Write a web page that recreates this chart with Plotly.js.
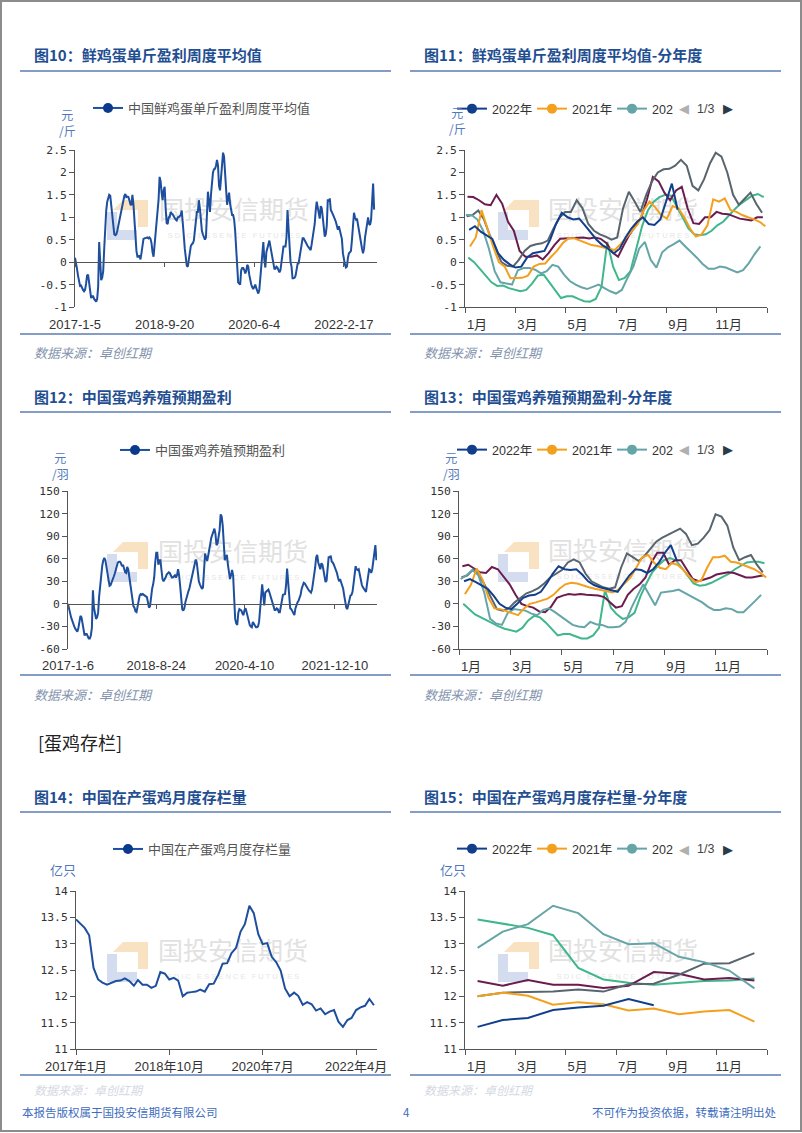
<!DOCTYPE html>
<html><head><meta charset="utf-8">
<script src="https://cdn.plot.ly/plotly-3.0.1.min.js"></script>
<style>html,body{margin:0;padding:0;background:#fff;}#chart{width:802px;height:1133px;}</style>
</head><body><div id="chart"></div>
<script>
// ---------- DATA ----------
// Weekly egg profit per jin (元/斤), one array per calendar year
const profitJin2017 = [0.10,0.00,-0.15,-0.30,-0.45,-0.53,-0.52,-0.58,-0.62,-0.65,
 -0.62,-0.48,-0.30,-0.28,-0.45,-0.62,-0.80,-0.76,-0.76,-0.82,
 -0.87,-0.88,-0.82,-0.55,0.45,-0.10,-0.40,-0.35,-0.20,0.30,
 0.80,1.15,1.35,1.45,1.50,1.48,1.25,1.00,0.75,0.62,
 0.60,0.62,0.70,0.82,0.90,1.05,1.18,1.30,1.40,1.48,1.52,1.45];
const profitJin2018 = [1.46,1.45,1.38,1.29,1.27,1.50,1.30,0.90,0.70,0.25,
 0.12,0.12,0.15,0.06,0.20,0.38,0.52,0.53,0.54,0.55,
 0.55,0.53,0.55,0.52,0.42,0.22,0.12,0.38,0.62,0.80,
 1.00,1.40,1.90,1.80,1.55,1.38,1.60,1.68,1.20,0.87,
 0.85,1.00,1.00,1.12,1.08,1.07,1.02,0.97,0.95,0.93,1.00,1.00];
const profitJin2019 = [1.02,1.05,1.15,0.95,0.60,0.30,0.00,-0.08,-0.10,0.05,
 0.25,0.36,0.40,0.42,0.48,0.75,0.98,1.12,1.12,1.38,
 1.20,0.85,0.70,0.62,0.57,0.50,0.55,1.20,1.57,1.35,
 1.12,1.50,1.80,2.00,2.07,2.08,2.15,2.28,2.15,1.70,
 1.60,1.85,2.20,2.44,2.35,2.00,1.50,1.28,1.42,1.55,1.30,1.10];
const profitJin2020 = [1.05,1.05,0.95,0.70,0.30,-0.20,-0.45,-0.48,-0.50,-0.18,
 -0.13,-0.13,-0.17,-0.25,-0.20,-0.06,-0.10,-0.28,-0.42,-0.50,
 -0.56,-0.60,-0.55,-0.50,-0.58,-0.65,-0.70,-0.62,-0.35,-0.10,
 0.30,0.45,0.05,-0.12,0.22,0.33,0.40,0.48,0.35,0.23,
 0.10,-0.04,-0.15,-0.15,-0.10,-0.12,-0.18,-0.23,-0.18,-0.02,0.18,0.35];
const profitJin2021 = [0.35,0.55,1.16,0.75,0.35,0.00,-0.10,-0.36,-0.36,-0.35,
 -0.30,-0.10,-0.04,-0.03,0.12,0.25,0.42,0.53,0.53,0.48,
 0.42,0.38,0.36,0.33,0.30,0.27,0.40,0.55,0.72,0.85,
 1.15,1.35,1.22,1.05,0.97,1.25,1.20,1.00,0.75,0.57,
 0.62,0.82,1.40,1.35,1.42,1.16,1.12,1.05,1.00,0.96,0.90,0.80];
const profitJin2022 = [0.72,0.80,0.68,0.60,0.52,0.20,0.05,-0.05,-0.12,-0.10,
 0.10,0.20,0.22,0.25,0.50,0.85,1.10,1.00,0.95,0.97,
 0.82,0.65,0.50,0.38,0.30,0.20,0.30,0.55,0.75,0.90,
 1.00,0.85,0.83,0.95,1.35,1.75,1.17];

// Weekly expected profit per laying hen (元/羽)
const henProfit2017 = [0,-7,-14,-18,-22,-27,-30,-33,-35,-37,
 -32,-22,-16,-18,-25,-34,-42,-40,-40,-43,
 -46,-46,-42,-32,18,-5,-14,-20,-18,-12,
 10,27,42,51,58,61,58,48,38,27,
 24,25,28,32,36,40,46,51,55,56,56,54];
const henProfit2018 = [50,52,47,42,41,49,46,36,26,12,
 0,-3,-5,-10,-11,-4,8,11,13,12,
 13,12,12,11,9,2,-5,-3,12,20,
 26,35,55,68,68,52,58,58,45,33,
 30,32,35,39,41,42,41,38,35,35,37,38];
const henProfit2019 = [35,38,46,38,24,8,-7,-9,-6,2,
 8,14,17,21,27,35,40,45,55,59,
 55,40,30,26,22,20,22,48,67,62,
 57,64,73,83,88,92,97,100,93,78,
 80,88,98,119,116,104,75,58,62,65,52,42];
const henProfit2020 = [33,38,45,38,15,-20,-26,-28,-12,-7,
 -8,-9,-13,-15,-8,-6,-11,-17,-22,-28,
 -30,-31,-24,-27,-28,-31,-31,-30,-24,-5,
 11,26,12,-2,15,16,17,19,15,11,
 7,2,-4,-8,-8,-6,-7,-11,-11,-4,4,12];
const henProfit2021 = [13,25,47,32,8,-6,-7,-10,-12,-15,
 -6,0,2,4,7,12,20,26,28,27,
 24,22,20,18,17,15,19,27,35,48,
 62,65,55,48,46,54,52,45,36,29,
 31,48,62,62,64,56,55,52,49,46,41,35];
const henProfit2022 = [30,33,29,24,20,11,0,-5,-7,0,
 8,11,12,16,27,40,50,46,45,46,
 39,30,25,22,20,18,16,27,38,46,
 45,41,46,55,68,78,58];

// Monthly laying-hen inventory (亿只)
const stock2017 = [13.46,13.38,13.30,13.16,12.54,12.32,12.26,12.22,12.25,12.29,12.30,12.34];
const stock2018 = [12.29,12.20,12.31,12.22,12.22,12.16,12.20,12.46,12.43,12.32,12.35,12.30];
const stock2019 = [12.00,12.07,12.08,12.09,12.13,12.09,12.23,12.24,12.41,12.62,12.63,12.82];
const stock2020 = [12.92,13.23,13.37,13.72,13.58,13.18,12.99,13.01,12.75,12.65,12.49,12.15];
const stock2021 = [12.00,12.07,12.01,11.84,11.89,11.85,11.73,11.77,11.66,11.71,11.74,11.52];
const stock2022 = [11.42,11.55,11.59,11.74,11.79,11.82,11.95,11.83];

const years = [2017, 2018, 2019, 2020, 2021, 2022];
// first weekly observation date of each year
const firstThursday = ['2017-01-05','2018-01-04','2019-01-03','2020-01-02','2021-01-07','2022-01-06'];
const firstFriday   = ['2017-01-06','2018-01-05','2019-01-04','2020-01-03','2021-01-08','2022-01-07'];

const longTicks10 = ['2017-1-5','2018-9-20','2020-6-4','2022-2-17'];
const longTicks12 = ['2017-1-6','2018-8-24','2020-4-10','2021-12-10'];
const longTicks14 = ['2017年1月','2018年10月','2020年7月','2022年4月'];
const longTickDates14 = ['2017-01-01','2018-10-01','2020-07-01','2022-04-01'];
const monthTicks = ['1月','3月','5月','7月','9月','11月',''];
const yTicksJin = [-1,-0.5,0,0.5,1,1.5,2,2.5];
const yTicksHen = [-60,-30,0,30,60,90,120,150];
const yTicksStock = [11,11.5,12,12.5,13,13.5,14];
const legendNames = ['2022年','2021年','202'];

// ---------- helpers ----------
const jinByYear = [profitJin2017,profitJin2018,profitJin2019,profitJin2020,profitJin2021,profitJin2022];
const henByYear = [henProfit2017,henProfit2018,henProfit2019,henProfit2020,henProfit2021,henProfit2022];
const stockByYear = [stock2017,stock2018,stock2019,stock2020,stock2021,stock2022];
const yearColor = ['#3fb68b','#6b1c4f','#59656e','#65a5a8','#f3a01e','#123f8c'];
const longColor = '#1d4f9e', markColor = '#0b3a8d';

function addDays(iso, n){const d=new Date(iso+'T00:00:00Z');d.setUTCDate(d.getUTCDate()+n);return d.toISOString().slice(0,10);}
function monthPos(iso){const d=new Date(iso+'T00:00:00Z');const y=d.getUTCFullYear();const s=Date.UTC(y,0,1),e=Date.UTC(y+1,0,1);return (d-s)/(e-s)*12;}
function padDate(s){const p=s.split('-');return p[0]+'-'+p[1].padStart(2,'0')+'-'+p[2].padStart(2,'0');}
const weekDates = (arr, start) => arr.map((_,k)=>addDays(start,7*k));

const W=802,H=1133;
const fx=px=>px/W, fy=py=>1-py/H;
const xd=a=>[fx(a[0]),fx(a[1])], yd=a=>[fy(a[1]),fy(a[0])];
const CJK='"Noto Sans CJK SC","Noto Sans",sans-serif';
const SANS='"Liberation Sans",Arial,"Noto Sans CJK SC",sans-serif';
const MONO='"DejaVu Sans Mono",monospace';
const AX='#555';

const dom = {
  c10:{x:[75,377],y:[150,307]}, c11:{x:[465,767],y:[150,307]},
  c12:{x:[68,377],y:[491,649]}, c13:{x:[459,767],y:[491,649]},
  c14:{x:[76,377],y:[891,1049]}, c15:{x:[465,767],y:[891,1049]}
};

const data = [];
// chart 10 long series
data.push({type:'scatter',mode:'lines',xaxis:'x',yaxis:'y',showlegend:false,
  x: years.flatMap((y,i)=>weekDates(jinByYear[i],firstThursday[i])),
  y: years.flatMap((y,i)=>jinByYear[i]), line:{color:longColor,width:2}});
data.push({type:'scatter',mode:'lines+markers',xaxis:'x',yaxis:'y',x:[null],y:[null],
  name:'中国鲜鸡蛋单斤盈利周度平均值',legend:'legend',line:{color:longColor,width:2},marker:{color:markColor,size:10}});
// chart 11 seasonal
years.forEach((y,i)=>data.push({type:'scatter',mode:'lines',xaxis:'x2',yaxis:'y2',showlegend:false,
  x: weekDates(jinByYear[i],firstThursday[i]).map(monthPos), y: jinByYear[i], line:{color:yearColor[i],width:2}}));
// chart 12 long series
data.push({type:'scatter',mode:'lines',xaxis:'x3',yaxis:'y3',showlegend:false,
  x: years.flatMap((y,i)=>weekDates(henByYear[i],firstFriday[i])),
  y: years.flatMap((y,i)=>henByYear[i]), line:{color:longColor,width:2}});
data.push({type:'scatter',mode:'lines+markers',xaxis:'x3',yaxis:'y3',x:[null],y:[null],
  name:'中国蛋鸡养殖预期盈利',legend:'legend3',line:{color:longColor,width:2},marker:{color:markColor,size:10}});
// chart 13 seasonal
years.forEach((y,i)=>data.push({type:'scatter',mode:'lines',xaxis:'x4',yaxis:'y4',showlegend:false,
  x: weekDates(henByYear[i],firstFriday[i]).map(monthPos), y: henByYear[i], line:{color:yearColor[i],width:2}}));
// chart 14 long monthly
data.push({type:'scatter',mode:'lines',xaxis:'x5',yaxis:'y5',showlegend:false,
  x: years.flatMap((y,i)=>stockByYear[i].map((_,m)=>y+'-'+String(m+1).padStart(2,'0')+'-01')),
  y: years.flatMap((y,i)=>stockByYear[i]), line:{color:longColor,width:2}});
data.push({type:'scatter',mode:'lines+markers',xaxis:'x5',yaxis:'y5',x:[null],y:[null],
  name:'中国在产蛋鸡月度存栏量',legend:'legend5',line:{color:longColor,width:2},marker:{color:markColor,size:10}});
// chart 15 seasonal monthly
years.forEach((y,i)=>data.push({type:'scatter',mode:'lines',xaxis:'x6',yaxis:'y6',showlegend:false,
  x: stockByYear[i].map((_,m)=>m+0.5), y: stockByYear[i], line:{color:yearColor[i],width:2}}));
// seasonal legends (2022, 2021, 2020 shown)
[['x2','y2','legend2'],['x4','y4','legend4'],['x6','y6','legend6']].forEach(([xa,ya,lg])=>{
  [5,4,3].forEach((yi,j)=>data.push({type:'scatter',mode:'lines+markers',xaxis:xa,yaxis:ya,x:[null],y:[null],
    name:legendNames[j],legend:lg,line:{color:yearColor[yi],width:2},marker:{color:yearColor[yi],size:10}}));
});

// ---------- axes ----------
function yAxis(d, range, vals, anchor){
  return {domain:yd(d.y),range,anchor,tickmode:'array',tickvals:vals,ticktext:vals.map(String),
    showline:true,linecolor:AX,linewidth:1,ticks:'outside',ticklen:5,tickcolor:AX,showgrid:false,zeroline:false,
    tickfont:{family:MONO,size:11.3,color:'#333'},fixedrange:true};
}
function xLong(d, range, vals, text, pos){
  return {domain:xd(d.x),type:'date',range,anchor:'free',position:pos,tickmode:'array',tickvals:vals,ticktext:text,
    showline:true,linecolor:AX,linewidth:1,ticks:'outside',ticklen:4,tickcolor:AX,showgrid:false,zeroline:false,
    ticklabelstandoff:46,tickfont:{family:SANS,size:13,color:'#333'},fixedrange:true};
}
function xSeason(d, anchor){
  return {domain:xd(d.x),range:[0,12],anchor,tickmode:'array',tickvals:[0,2,4,6,8,10,12],ticktext:monthTicks,
    showline:true,linecolor:AX,linewidth:1,ticks:'outside',ticklen:5,tickcolor:AX,showgrid:false,zeroline:false,
    ticklabelshift:12,tickfont:{family:SANS,size:13,color:'#333'},fixedrange:true};
}
const zero10 = fy(150 + 157*2.5/3.5);
const zero12 = fy(491 + 158*150/210);

// ---------- decorations ----------
const ann=[], shapes=[];
function txt(text,px,py,o){ann.push(Object.assign({text,x:fx(px),y:fy(py),xref:'paper',yref:'paper',showarrow:false,
  xanchor:'left',yanchor:'middle',font:{family:CJK,size:13,color:'#333'}},o||{}));}
function hline(x0,x1,py,color,w){shapes.push({type:'line',xref:'paper',yref:'paper',x0:fx(x0),x1:fx(x1),y0:fy(py),y1:fy(py),line:{color,width:w}});}

const titleFont={family:CJK,size:15,color:'#1f4e91'};
[['图10：鲜鸡蛋单斤盈利周度平均值',32,55],['图11：鲜鸡蛋单斤盈利周度平均值-分年度',422,55],
 ['图12：中国蛋鸡养殖预期盈利',32,397],['图13：中国蛋鸡养殖预期盈利-分年度',422,397],
 ['图14：中国在产蛋鸡月度存栏量',32,796],['图15：中国在产蛋鸡月度存栏量-分年度',422,796]]
 .forEach(([t,x,y])=>txt('<b>'+t+'</b>',x,y,{font:titleFont}));

const ruleC='#5b7db5';
[[71,334],[412,675],[812,1075]].forEach(([a,b])=>{hline(20,391,a,ruleC,1.5);hline(410,781,a,ruleC,1.5);hline(20,391,b,ruleC,1.5);hline(410,781,b,ruleC,1.5);});

const srcFont={family:CJK,size:13,color:'#8393ad',style:'italic'};
[[32,353],[422,353],[32,694],[422,694]].forEach(([x,y])=>txt('数据来源：卓创红期',x,y,{font:srcFont}));
[[32,1089],[422,1089]].forEach(([x,y])=>txt('数据来源：卓创红期',x,y,{font:{family:CJK,size:12,color:'#d3d9e3',style:'italic'}}));

const unitFont={family:CJK,size:12,color:'#5078bd'};
const unit2 = (t,px,py)=>txt(t,px,py,{xanchor:'center',align:'center',font:unitFont});
unit2('元<br>/斤',67,122); unit2('元<br>/斤',457,121);
unit2('元<br>/羽',60,465); unit2('元<br>/羽',451,465);
txt('亿只',63,869,{xanchor:'center',font:{family:CJK,size:13,color:'#5078bd'}});
txt('亿只',453,869,{xanchor:'center',font:{family:CJK,size:13,color:'#5078bd'}});

[109,450,849].forEach(py=>{
  txt('◀',684,py,{xanchor:'center',font:{family:'DejaVu Sans',size:13,color:'#b0b0b0'}});
  txt('1/3',705,py,{xanchor:'center',font:{family:SANS,size:12.5,color:'#444'}});
  txt('▶',728,py,{xanchor:'center',font:{family:'DejaVu Sans',size:13,color:'#2b3a4a'}});
});

txt('[蛋鸡存栏]',36,742,{font:{family:CJK,size:18,color:'#222'}});
const footFont={family:CJK,size:11.5,color:'#3d6cc0'};
txt('本报告版权属于国投安信期货有限公司',20,1112,{font:footFont});
txt('4',406,1112,{xanchor:'center',font:footFont});
txt('不可作为投资依据，转载请注明出处',778,1112,{xanchor:'right',font:footFont});

// watermarks (below traces)
function watermark(cx,cy,bx,by){
  shapes.push({type:'rect',xref:'paper',yref:'paper',x0:fx(cx-80),x1:fx(cx+80),y0:fy(cy+13),y1:fy(cy-13),
    line:{width:0},fillcolor:'rgba(0,0,0,0)',layer:'below',
    label:{text:'国投安信期货',font:{family:CJK,size:25,color:'#e1e1e1'},textposition:'middle center'}});
  shapes.push({type:'rect',xref:'paper',yref:'paper',x0:fx(cx-80),x1:fx(cx+80),y0:fy(cy+28),y1:fy(cy+18),
    line:{width:0},fillcolor:'rgba(0,0,0,0)',layer:'below',
    label:{text:'S D I C   E S S E N C E   F U T U R E S',font:{family:SANS,size:7.5,color:'#e6e6e6'},textposition:'middle center'}});
  const pt=(dx,dy)=>fx(bx+dx)+','+fy(by+dy);
  shapes.push({type:'path',xref:'paper',yref:'paper',layer:'below',line:{width:0},fillcolor:'#f8e2c2',
    path:'M'+pt(6,10)+' L'+pt(16,0)+' L'+pt(41,0)+' L'+pt(41,27)+' L'+pt(31,27)+' L'+pt(31,10)+' Z'});
  shapes.push({type:'path',xref:'paper',yref:'paper',layer:'below',line:{width:0},fillcolor:'#d3ddef',
    path:'M'+pt(0,12)+' L'+pt(10,12)+' L'+pt(10,30)+' L'+pt(30,30)+' L'+pt(30,40)+' L'+pt(0,40)+' Z'});
}
watermark(234,212,107,200); watermark(623,212,498,200);
watermark(233,554,107,542); watermark(623,553,498,542);
watermark(233,953,107,942); watermark(623,953,498,942);

// page border
shapes.push({type:'rect',xref:'paper',yref:'paper',x0:fx(1),x1:fx(801),y0:fy(1131),y1:fy(1),line:{color:'#8c8c8c',width:2},fillcolor:'rgba(0,0,0,0)'});

function leftLegend(px,py){return {x:fx(px),y:fy(py),xanchor:'left',yanchor:'middle',orientation:'h',bgcolor:'rgba(0,0,0,0)',
  font:{family:CJK,size:13,color:'#555'}};}
function rightLegend(px,py){return {x:fx(px),y:fy(py),xanchor:'left',yanchor:'middle',orientation:'h',bgcolor:'rgba(0,0,0,0)',
  entrywidth:35,entrywidthmode:'pixels',font:{family:SANS,size:12.5,color:'#333'}};}

const layout = {
  width:W,height:H,margin:{l:0,r:0,t:0,b:0},paper_bgcolor:'#fff',plot_bgcolor:'rgba(0,0,0,0)',
  showlegend:true,hovermode:false,font:{family:SANS,size:12,color:'#333'},
  xaxis: xLong(dom.c10,['2017-01-05','2022-10-05'],longTicks10.map(padDate),longTicks10,zero10),
  yaxis: yAxis(dom.c10,[-1,2.5],yTicksJin,'x'),
  xaxis2: xSeason(dom.c11,'y2'),
  yaxis2: yAxis(dom.c11,[-1,2.5],yTicksJin,'x2'),
  xaxis3: xLong(dom.c12,['2017-01-06','2022-09-20'],longTicks12.map(padDate),longTicks12,zero12),
  yaxis3: yAxis(dom.c12,[-60,150],yTicksHen,'x3'),
  xaxis4: xSeason(dom.c13,'y4'),
  yaxis4: yAxis(dom.c13,[-60,150],yTicksHen,'x4'),
  xaxis5: Object.assign(xLong(dom.c14,['2017-01-01','2022-08-22'],longTickDates14,longTicks14,0),{anchor:'y5',ticklabelstandoff:0,ticklen:5}),
  yaxis5: yAxis(dom.c14,[11,14],yTicksStock,'x5'),
  xaxis6: xSeason(dom.c15,'y6'),
  yaxis6: yAxis(dom.c15,[11,14],yTicksStock,'x6'),
  legend: leftLegend(88,108), legend2: rightLegend(452,109),
  legend3: leftLegend(115,450), legend4: rightLegend(452,450),
  legend5: leftLegend(108,849), legend6: rightLegend(452,849),
  annotations: ann, shapes
};
delete layout.xaxis5.position;
Plotly.newPlot('chart',data,layout,{staticPlot:true,displayModeBar:false});
</script></body></html>
